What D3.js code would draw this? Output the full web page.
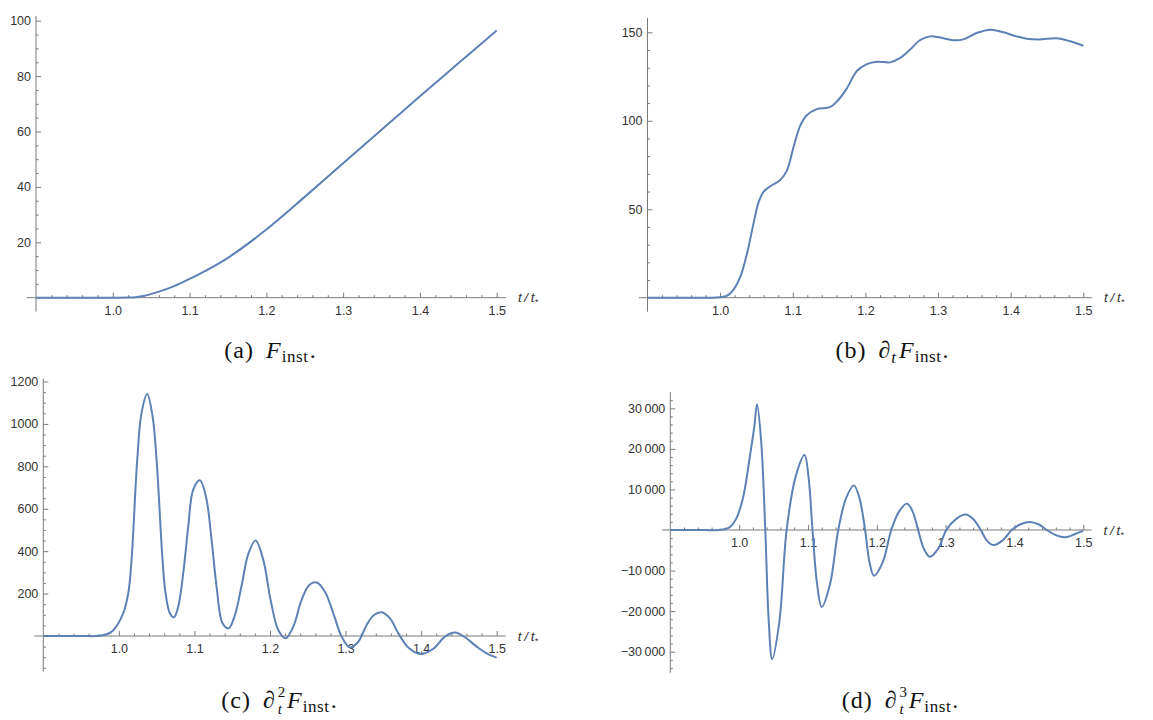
<!DOCTYPE html>
<html>
<head>
<meta charset="utf-8">
<script src="https://cdn.jsdelivr.net/npm/d3@7"></script>
<style>
  body { margin: 0; background: #fff; }
  svg { display: block; }
</style>
</head>
<body>
<div id="chart"></div>
<script>
// Values
// (a) F_inst
var tA = [0.9, 0.95, 1.0, 1.02, 1.03, 1.04, 1.06, 1.08, 1.1, 1.12, 1.15, 1.2, 1.25, 1.3, 1.35, 1.4, 1.45, 1.5];
var vA = [0, 0, 0, 0.05, 0.2, 0.6, 2.2, 4.2, 6.8, 9.6, 14.4, 24.6, 36.4, 48.5, 60.6, 72.7, 84.6, 96.5];

// (b) d/dt F_inst
var tB = [0.9, 0.95, 1.0, 1.009, 1.018, 1.028, 1.037, 1.046, 1.053, 1.06, 1.069, 1.083, 1.092, 1.101, 1.11, 1.119, 1.133,
  1.151, 1.161, 1.174, 1.188, 1.202, 1.216, 1.234, 1.248, 1.261, 1.275, 1.289, 1.303, 1.321, 1.335, 1.353, 1.372, 1.39,
  1.408, 1.422, 1.44, 1.463, 1.482, 1.5];
var vB = [0, 0, 0.3, 1, 4.3, 12, 25, 42, 54, 60, 63, 66.6, 72, 85, 97, 103, 106.6,
  107.7, 111, 118, 128, 132, 133.4, 133, 135.5, 140, 145.5, 147.7, 147, 145.5, 146, 149.6, 151.5, 150,
  147.7, 146.4, 146, 146.6, 144.9, 142.4];

// (c) d2/dt2 F_inst
var tC = [0.9, 0.95, 0.97, 0.984, 0.992, 1.0057, 1.0124, 1.0168, 1.0243, 1.030, 1.0375, 1.0446, 1.0499, 1.0578, 1.0618,
  1.0675, 1.0728, 1.0786, 1.0852, 1.0918, 1.0984, 1.1072, 1.1152, 1.1227, 1.1293, 1.1372, 1.1452, 1.1536, 1.1628,
  1.1712, 1.1809, 1.1911, 1.2008, 1.2109, 1.2207, 1.2308, 1.2418, 1.252, 1.2617, 1.2727, 1.2838, 1.2948, 1.3058,
  1.3169, 1.3279, 1.3376, 1.3478, 1.3588, 1.3698, 1.383, 1.3993, 1.4161, 1.4315, 1.4448, 1.458, 1.4735, 1.4868, 1.5];
var vC = [0, 0, 0, 8, 25, 107, 201, 359, 831, 1052, 1141, 1036, 831, 359, 201,
  107, 88, 139, 296, 516, 690, 734, 658, 453, 233, 60, 36, 99, 244,
  386, 450, 359, 170, 28, -11, 44, 170, 241, 252, 209, 107, -3, -54,
  -27, 52, 99, 112, 83, 13, -54, -85, -60, -3, 16, -6, -50, -82, -102];

// (d) d3/dt3 F_inst
var tD = [0.9, 0.95, 0.97, 0.986, 0.996, 1.006, 1.0155, 1.022, 1.026, 1.032, 1.038, 1.043, 1.048, 1.0585, 1.069,
  1.082, 1.095, 1.1008, 1.1066, 1.1133, 1.120, 1.132, 1.144, 1.1553, 1.1667, 1.1749, 1.183, 1.1895, 1.196, 1.2085,
  1.221, 1.2325, 1.244, 1.252, 1.26, 1.2685, 1.277, 1.289, 1.301, 1.315, 1.329, 1.34, 1.351, 1.36, 1.369, 1.3825,
  1.396, 1.409, 1.4225, 1.435, 1.447, 1.46, 1.473, 1.488, 1.5];
var vD = [0, 0, 0, 656, 2870, 8200, 18000, 25400, 31000, 21900, 0, -22500, -31800, -22500, 0,
  13100, 18500, 13100, 0, -13400, -19000, -13400, 0, 7800, 11000, 7800, 0, -8000, -11300, -8000,
  0, 4600, 6500, 4600, 0, -4670, -6600, -4670, 0, 2690, 3800, 2690, 0, -2620, -3700, -2620,
  0, 1410, 2000, 1410, 0, -1270, -1800, -1000, -160];

var xMajor = [1.0, 1.1, 1.2, 1.3, 1.4, 1.5];
var yMajorA = [20, 40, 60, 80, 100];
var yMajorB = [50, 100, 150];
var yMajorC = [200, 400, 600, 800, 1000, 1200];
var yMajorD = [-30000, -20000, -10000, 10000, 20000, 30000];

var captions = ["(a)", "(b)", "(c)", "(d)"];
var derivOrder = [0, 1, 2, 3];

var W = 1153, H = 720;
var lineColor = "#5E81B5";
var axisColor = "#7a7a7a";
var labelColor = "#333";

var svg = d3.select("#chart").append("svg")
  .attr("width", W)
  .attr("height", H);

var panels = [
  { t: tA, v: vA, yMajor: yMajorA, minorStep: 5, left: 36, right: 496.7, zeroY: 297.7, refY: 20.7, refV: 100, yMin: -5, yMax: 101.7 },
  { t: tB, v: vB, yMajor: yMajorB, minorStep: 10, left: 647.5, right: 1083.3, zeroY: 297.7, refY: 32.3, refV: 150, yMin: -7.9, yMax: 158.2 },
  { t: tC, v: vC, yMajor: yMajorC, minorStep: 50, left: 43.3, right: 496.7, zeroY: 636, refY: 381.5, refV: 1200, yMin: -168, yMax: 1214 },
  { t: tD, v: vD, yMajor: yMajorD, minorStep: 2000, left: 670.3, right: 1083.3, zeroY: 530, refY: 408.3, refV: 30000, yMin: -35200, yMax: 34000 }
];

var thin = "\u2009";
function fmtY(d) {
  return Math.abs(d) >= 10000 ? d3.format(",")(d).replace(",", thin) : d3.format("d")(d);
}

panels.forEach(function (p) {
  var x = d3.scaleLinear().domain([0.9, 1.5]).range([p.left, p.right]);
  var y = d3.scaleLinear().domain([0, p.refV]).range([p.zeroY, p.refY]);
  var g = svg.append("g");

  // axis lines
  g.append("line")
    .attr("x1", x(0.888)).attr("x2", x(1.512))
    .attr("y1", y(0)).attr("y2", y(0))
    .attr("stroke", axisColor).attr("stroke-width", 1);
  g.append("line")
    .attr("x1", x(0.9)).attr("x2", x(0.9))
    .attr("y1", y(p.yMin)).attr("y2", y(p.yMax))
    .attr("stroke", axisColor).attr("stroke-width", 1);

  // x ticks (pointing up)
  var xMinor = d3.range(0.92, 1.5, 0.02).filter(function (d) {
    return xMajor.every(function (m) { return Math.abs(m - d) > 1e-6; });
  });
  var xTickG = g.append("g").attr("transform", "translate(0," + y(0) + ")");
  xTickG.call(d3.axisTop(x).tickValues(xMajor).tickSize(5).tickSizeOuter(0).tickFormat(""));
  xTickG.append("g").call(d3.axisTop(x).tickValues(xMinor).tickSize(2.5).tickSizeOuter(0).tickFormat(""));
  g.append("g").attr("transform", "translate(0," + y(0) + ")")
    .call(d3.axisBottom(x).tickValues(xMajor).tickSize(0).tickPadding(8).tickFormat(d3.format(".1f")));

  // y ticks (pointing right)
  var yMinor = [];
  for (var k = Math.ceil(p.yMin / p.minorStep); k * p.minorStep < p.yMax; k++) {
    var val = k * p.minorStep;
    if (val !== 0 && p.yMajor.indexOf(val) < 0 && val > p.yMin + p.minorStep * 0.3) yMinor.push(val);
  }
  var yTickG = g.append("g").attr("transform", "translate(" + x(0.9) + ",0)");
  yTickG.call(d3.axisRight(y).tickValues(p.yMajor).tickSize(5).tickSizeOuter(0).tickFormat(""));
  yTickG.append("g").call(d3.axisRight(y).tickValues(yMinor).tickSize(2.5).tickSizeOuter(0).tickFormat(""));
  g.append("g").attr("transform", "translate(" + x(0.9) + ",0)")
    .call(d3.axisLeft(y).tickValues(p.yMajor).tickSize(0).tickPadding(5).tickFormat(fmtY));

  g.selectAll(".domain").remove();
  g.selectAll(".tick line").attr("stroke", axisColor);
  g.selectAll(".tick text")
    .attr("fill", labelColor)
    .attr("font-family", "'Liberation Sans', Arial, sans-serif")
    .attr("font-size", 12.5);

  // axis label t/t*
  var lab = g.append("text")
    .attr("x", x(1.512) + 12)
    .attr("y", y(0) + 4.5)
    .attr("font-family", "'Liberation Sans', Arial, sans-serif")
    .attr("font-style", "italic")
    .attr("font-size", 13.5)
    .attr("fill", labelColor);
  lab.append("tspan").text("t\u2009/\u2009t");
  lab.append("tspan").attr("font-size", 9).attr("dy", 3).text("*");

  // curve
  var pts = p.t.map(function (d, i) { return [d, p.v[i]]; });
  var line = d3.line()
    .x(function (d) { return x(d[0]); })
    .y(function (d) { return y(d[1]); })
    .curve(d3.curveCatmullRom.alpha(0.5));
  g.append("path")
    .datum(pts)
    .attr("d", line)
    .attr("fill", "none")
    .attr("stroke", lineColor)
    .attr("stroke-width", 2)
    .attr("stroke-linejoin", "round");
});

// captions
var capPos = [[270, 358], [892, 358], [279, 708], [900, 708]];
var serif = "'Liberation Serif', 'DejaVu Serif', serif";
var big = 24, small = 17;
captions.forEach(function (c, i) {
  var txt = svg.append("text")
    .attr("x", capPos[i][0])
    .attr("y", capPos[i][1])
    .attr("text-anchor", "middle")
    .attr("font-family", serif)
    .attr("font-size", big)
    .attr("fill", "#111");
  txt.append("tspan").attr("letter-spacing", 1).text(c);
  var n = derivOrder[i];
  var first = txt.append("tspan").attr("dx", 12);
  if (n > 0) {
    first.attr("font-style", "italic").text("\u2202");
    if (n === 1) {
      txt.append("tspan").attr("font-size", small).attr("font-style", "italic").attr("dx", 1).attr("dy", 5).text("t");
      txt.append("tspan").attr("dx", 3).attr("dy", -5).attr("font-style", "italic").text("F");
    } else {
      txt.append("tspan").attr("font-size", small - 2).attr("dx", 3).attr("dy", -11).text(String(n));
      txt.append("tspan").attr("font-size", small - 2).attr("font-style", "italic").attr("dx", -7.5).attr("dy", 17).text("t");
      txt.append("tspan").attr("dx", 5).attr("dy", -6).attr("font-style", "italic").text("F");
    }
  } else {
    first.attr("font-style", "italic").text("F");
  }
  txt.append("tspan").attr("font-size", small).attr("letter-spacing", 0.6).attr("dx", 1).attr("dy", 4).text("inst");
  txt.append("tspan").attr("dx", 1).attr("dy", -4).text(".");
});
</script>
</body>
</html>
